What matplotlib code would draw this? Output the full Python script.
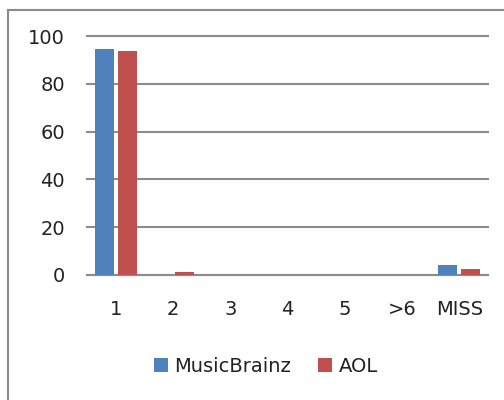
import numpy as np
import matplotlib
matplotlib.use("Agg")
from matplotlib import pyplot as plt
from matplotlib.patches import Rectangle

categories = ["1", "2", "3", "4", "5", ">6", "MISS"]
musicbrainz = [94.4, 0, 0, 0, 0, 0, 4.0]
aol = [93.6, 1.3, 0, 0, 0, 0, 2.5]
y_ticks = [0, 20, 40, 60, 80, 100]

plt.rcParams['font.family'] = ['DejaVu Sans']

W, H = 504, 400
fig = plt.figure(figsize=(W / 100, H / 100), dpi=100)

# chart frame (runs off the right and bottom edges)
fig.patches.append(Rectangle((8 / W, -0.1), 1.2, 1.1 - 10 / H, transform=fig.transFigure,
                             fill=False, edgecolor='#8a8a8a', linewidth=1.5))

ax = fig.add_axes([87 / W, 1 - 275 / H, (488 - 87) / W, (275 - 36) / H])

x = np.arange(len(categories))
w = 0.335
ax.bar(x - 0.2, musicbrainz, w, color='#4F81BD', label='MusicBrainz', zorder=3)
ax.bar(x + 0.2, aol, w, color='#C0504D', label='AOL', zorder=3)

ax.set_xlim(-0.5, len(categories) - 0.5)
ax.set_ylim(0, 100)
ax.set_yticks(y_ticks)
ax.yaxis.grid(True, color='#8c8c8c', linewidth=1.5, zorder=0)
for gl in ax.get_ygridlines():
    gl.set_clip_on(False)
ax.set_xticks(x)
ax.set_xticklabels(categories)
ax.tick_params(axis='x', length=0, pad=18, labelsize=14, labelcolor='#222222')
ax.tick_params(axis='y', length=0, pad=16, labelsize=14, labelcolor='#222222')
for side in ['left', 'right', 'top']:
    ax.spines[side].set_visible(False)
ax.spines['bottom'].set_color('#8c8c8c')
ax.spines['bottom'].set_linewidth(1.5)
ax.spines['bottom'].set_zorder(2)

ax.legend(loc='center', bbox_to_anchor=(266 / W, 1 - 366 / H), bbox_transform=fig.transFigure,
          ncol=2, frameon=False, fontsize=14, handlelength=0.7, handleheight=0.7,
          handletextpad=0.35, columnspacing=1.4, labelcolor='#222222')

fig.savefig('out.png', dpi=100)
